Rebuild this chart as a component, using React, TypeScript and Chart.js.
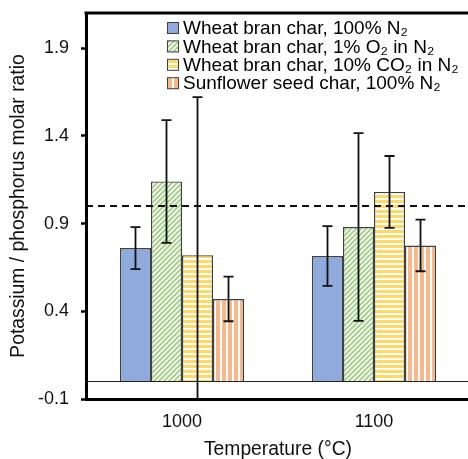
import { useEffect, useRef } from "react";
import { Chart, registerables } from "chart.js";

Chart.register(...registerables);

const categories = ["1000", "1100"];
const seriesLabels = [
  "Wheat bran char, 100% N₂",
  "Wheat bran char, 1% O₂ in N₂",
  "Wheat bran char, 10% CO₂ in N₂",
  "Sunflower seed char, 100% N₂",
];
const wheatN2 = [0.76, 0.715];
const wheatN2Err = [0.12, 0.17];
const wheatO2 = [1.14, 0.88];
const wheatO2Err = [0.35, 0.535];
const wheatCO2 = [0.72, 1.08];
const wheatCO2Err = [0.9, 0.205];
const sunflowerN2 = [0.47, 0.775];
const sunflowerN2Err = [0.127, 0.147];
const yTicks = [-0.1, 0.4, 0.9, 1.4, 1.9];
const referenceRatio = 1.0;

const FONT = "'Liberation Sans', Arial, sans-serif";

// small repeating tiles for the hatched bars
function makePattern(kind: "solid" | "diag" | "horiz" | "vert", color: string) {
  if (kind === "solid") return color;
  const c = document.createElement("canvas");
  const g = c.getContext("2d")!;
  if (kind === "diag") {
    c.width = 5;
    c.height = 5;
    g.fillStyle = "#fff";
    g.fillRect(0, 0, 5, 5);
    g.strokeStyle = color;
    g.lineWidth = 2;
    g.beginPath();
    g.moveTo(-1, 6);
    g.lineTo(6, -1);
    g.moveTo(-2, 2);
    g.lineTo(2, -2);
    g.moveTo(3, 7);
    g.lineTo(7, 3);
    g.stroke();
  } else if (kind === "horiz") {
    c.width = 4;
    c.height = 5;
    g.fillStyle = "#fff";
    g.fillRect(0, 0, 4, 5);
    g.fillStyle = color;
    g.fillRect(0, 0, 4, 3);
  } else {
    c.width = 6;
    c.height = 4;
    g.fillStyle = "#fff";
    g.fillRect(0, 0, 6, 4);
    g.fillStyle = color;
    g.fillRect(0, 0, 4, 4);
  }
  return g.createPattern(c, "repeat")!;
}

const errors = [wheatN2Err, wheatO2Err, wheatCO2Err, sunflowerN2Err];

const overlayPlugin = {
  id: "overlay",
  afterDatasetsDraw(chart: any) {
    const { ctx, chartArea, scales } = chart;
    const y = scales.y;
    ctx.save();

    // zero line
    const y0 = Math.round(y.getPixelForValue(0)) + 0.5;
    ctx.strokeStyle = "#222";
    ctx.lineWidth = 1;
    ctx.beginPath();
    ctx.moveTo(chartArea.left, y0);
    ctx.lineTo(chartArea.right, y0);
    ctx.stroke();

    // error bars
    ctx.beginPath();
    ctx.rect(chartArea.left, chartArea.top, chartArea.right - chartArea.left, chartArea.bottom - chartArea.top);
    ctx.clip();
    ctx.strokeStyle = "#111";
    ctx.lineWidth = 1.8;
    chart.data.datasets.forEach((ds: any, i: number) => {
      const meta = chart.getDatasetMeta(i);
      meta.data.forEach((bar: any, j: number) => {
        const v = ds.data[j];
        const e = errors[i][j];
        const yt = y.getPixelForValue(v + e);
        const yb = y.getPixelForValue(v - e);
        ctx.beginPath();
        ctx.moveTo(bar.x, yt);
        ctx.lineTo(bar.x, yb);
        ctx.moveTo(bar.x - 5, yt);
        ctx.lineTo(bar.x + 5, yt);
        ctx.moveTo(bar.x - 5, yb);
        ctx.lineTo(bar.x + 5, yb);
        ctx.stroke();
      });
    });

    // dashed reference line
    const yr = y.getPixelForValue(referenceRatio);
    ctx.strokeStyle = "#111";
    ctx.lineWidth = 2;
    ctx.setLineDash([7, 5]);
    ctx.beginPath();
    ctx.moveTo(chartArea.left, yr);
    ctx.lineTo(chartArea.right, yr);
    ctx.stroke();
    ctx.restore();

    // top frame line
    ctx.save();
    ctx.strokeStyle = "#000";
    ctx.lineWidth = 3;
    ctx.beginPath();
    ctx.moveTo(chartArea.left - 1.5, chartArea.top);
    ctx.lineTo(chartArea.right, chartArea.top);
    ctx.stroke();

    // inset legend
    const lx = chartArea.left + 81;
    ctx.font = `19px ${FONT}`;
    ctx.textBaseline = "middle";
    ctx.textAlign = "left";
    chart.data.datasets.forEach((ds: any, i: number) => {
      const cy = chartArea.top + 15 + i * 18.4;
      ctx.fillStyle = ds.backgroundColor;
      ctx.fillRect(lx, cy - 6, 12, 12);
      ctx.strokeStyle = "#404040";
      ctx.lineWidth = 1;
      ctx.strokeRect(lx + 0.5, cy - 5.5, 11, 11);
      ctx.fillStyle = "#000";
      ctx.fillText(ds.label, lx + 16, cy + 1);
    });
    ctx.restore();
  },
};

export default function App() {
  const canvasRef = useRef<HTMLCanvasElement>(null);
  const chartRef = useRef<Chart | null>(null);

  useEffect(() => {
    if (!canvasRef.current) return;
    if (chartRef.current) chartRef.current.destroy();

    const fills = [
      makePattern("solid", "#8faadc"),
      makePattern("diag", "#a9d18e"),
      makePattern("horiz", "#ffd966"),
      makePattern("vert", "#f8b98a"),
    ];
    const values = [wheatN2, wheatO2, wheatCO2, sunflowerN2];

    chartRef.current = new Chart(canvasRef.current, {
      type: "bar",
      data: {
        labels: categories,
        datasets: values.map((d, i) => ({
          label: seriesLabels[i],
          data: d,
          backgroundColor: fills[i] as any,
          borderColor: "#404040",
          borderWidth: 1.4,
          barPercentage: 1,
          categoryPercentage: 0.646,
        })),
      },
      options: {
        animation: false,
        responsive: true,
        maintainAspectRatio: false,
        layout: { padding: { left: 0, right: 4, top: 13, bottom: 0 } },
        plugins: {
          legend: { display: false },
          tooltip: { enabled: false },
        },
        scales: {
          x: {
            grid: { display: false, drawTicks: false },
            border: { display: true, color: "#000", width: 3 },
            ticks: { color: "#111", font: { family: FONT, size: 18 }, padding: 12 },
            title: {
              display: true,
              text: "Temperature (°C)",
              color: "#111",
              font: { family: FONT, size: 19.3 },
              padding: { top: 0, bottom: 8.4 },
            },
            afterFit: (s: any) => {
              s.height = 71;
              s.paddingLeft = 0;
              s.paddingRight = 0;
            },
          },
          y: {
            min: -0.1,
            max: 2.1,
            afterBuildTicks: (s: any) => {
              s.ticks = yTicks.map((v) => ({ value: v }));
            },
            afterFit: (s: any) => {
              s.width = 86;
              s.paddingTop = 0;
              s.paddingBottom = 0;
            },
            grid: { drawOnChartArea: false, drawTicks: true, tickLength: 5, tickWidth: 2.5, tickColor: "#000" },
            border: { display: true, color: "#000", width: 3 },
            ticks: {
              color: "#111",
              font: { family: FONT, size: 18 },
              padding: 12,
              callback: (v: any) => Number(v).toFixed(1),
            },
            title: {
              display: true,
              text: "Potassium / phosphorus molar ratio",
              color: "#111",
              font: { family: FONT, size: 19.3 },
              padding: { top: 7.5, bottom: 0 },
            },
          },
        },
      },
      plugins: [overlayPlugin],
    });

    return () => {
      if (chartRef.current) {
        chartRef.current.destroy();
        chartRef.current = null;
      }
    };
  }, []);

  return (
    <div style={{ position: "fixed", left: 0, top: 0, width: 468, height: 459, overflow: "hidden", background: "#fff" }}>
      <div style={{ position: "relative", width: 474, height: 470 }}>
        <canvas ref={canvasRef} />
      </div>
    </div>
  );
}
